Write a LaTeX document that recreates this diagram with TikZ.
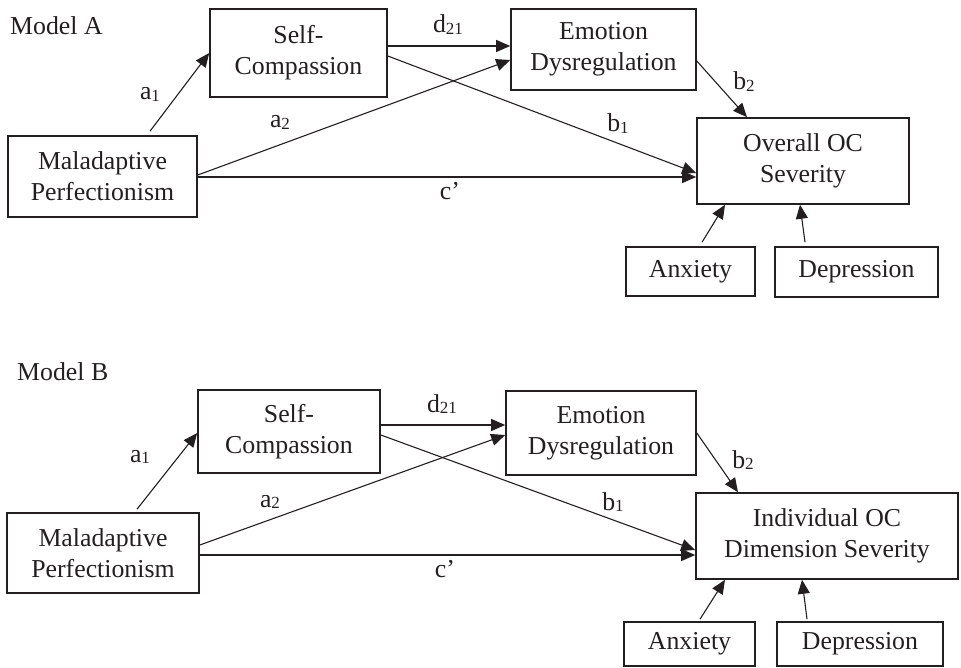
\documentclass[tikz,border=0pt]{standalone}
\usepackage{fontspec}
\setmainfont{Liberation Serif}
\usetikzlibrary{arrows.meta}
\definecolor{ink}{RGB}{35,31,32}
\newcommand{\subdig}[1]{\raisebox{-1.5pt}{\fontsize{17}{17}\selectfont #1}}
\begin{document}
\begin{tikzpicture}[x=1pt,y=-1pt,
  box/.style={draw=ink, line width=1.6pt, inner sep=0pt, align=center, text=ink,
    font=\fontsize{25.8}{31}\selectfont},
  lbl/.style={anchor=base, inner sep=0pt, text=ink, font=\fontsize{25.8}{31}\selectfont},
  arr/.style={draw=ink, line width=1.1pt, -{Triangle[length=14pt,width=12pt]}}
]
\useasboundingbox (0,0) rectangle (961,668);

% ---------------- Model A ----------------
\node[lbl, anchor=base west] (titA) at (10,35) {Model A};
\node[box, minimum width=189pt, minimum height=81pt] (mpA) at (102.5,176.5) {Maladaptive\\Perfectionism};
\node[box, minimum width=177pt, minimum height=88pt] (scA) at (298.5,53) {Self-\\Compassion};
\node[box, minimum width=185pt, minimum height=81pt] (edA) at (603.5,49.5) {Emotion\\Dysregulation};
\node[box, minimum width=212pt, minimum height=86pt] (ocA) at (803,161) {Overall OC\\Severity};
\node[box, minimum width=129pt, minimum height=49pt] (axA) at (690.5,271.5) {Anxiety};
\node[box, minimum width=163pt, minimum height=50pt] (dpA) at (856.5,272) {Depression};

\draw[arr] ([xshift=47.5pt,yshift=4pt]mpA.north) -- (scA.west);
\draw[arr] ([yshift=7pt]scA.east) -- ([yshift=3.5pt]edA.west);
\draw[arr] ([yshift=1.5pt]mpA.east) -- ([yshift=-10.5pt]edA.west);
\draw[arr] ([yshift=-3pt]scA.east) -- ([yshift=-12pt]ocA.west);
\draw[arr] ([yshift=-0.5pt]mpA.east) -- ([yshift=-16pt]ocA.west);
\draw[arr] ([yshift=-11.5pt]edA.east) -- ([xshift=-56pt]ocA.north);
\draw[arr] ([xshift=11.5pt,yshift=4pt]axA.north) -- ([xshift=-78pt]ocA.south);
\draw[arr] ([xshift=-51.5pt,yshift=4pt]dpA.north) -- ([xshift=-3pt]ocA.south);

\node[lbl] (a1A) at (150,100) {a\subdig{1}};
\node[lbl] (a2A) at (280,128) {a\subdig{2}};
\node[lbl] (d21A) at (448,33) {d\subdig{21}};
\node[lbl] (cA) at (450,200) {c’};
\node[lbl] (b1A) at (618,132) {b\subdig{1}};
\node[lbl] (b2A) at (744,90) {b\subdig{2}};

% ---------------- Model B ----------------
\node[lbl, anchor=base west] (titB) at (17,380) {Model B};
\node[box, minimum width=192pt, minimum height=80pt] (mpB) at (103,553) {Maladaptive\\Perfectionism};
\node[box, minimum width=182pt, minimum height=83pt] (scB) at (289,431.5) {Self-\\Compassion};
\node[box, minimum width=190pt, minimum height=84pt] (edB) at (601,433) {Emotion\\Dysregulation};
\node[box, minimum width=262pt, minimum height=86pt] (ocB) at (827,536) {Individual OC\\Dimension Severity};
\node[box, minimum width=131pt, minimum height=44pt] (axB) at (689.5,644) {Anxiety};
\node[box, minimum width=166pt, minimum height=44pt] (dpB) at (860,644) {Depression};

\draw[arr] ([xshift=34pt,yshift=3pt]mpB.north) -- ([yshift=-1.5pt]scB.west);
\draw[arr] ([yshift=6.5pt]scB.east) -- ([yshift=8pt]edB.west);
\draw[arr] ([yshift=8pt]mpB.east) -- ([yshift=-2pt]edB.west);
\draw[arr] ([yshift=-3.5pt]scB.east) -- ([yshift=-14pt]ocB.west);
\draw[arr] ([yshift=-2pt]mpB.east) -- ([yshift=-19pt]ocB.west);
\draw[arr] (edB.east) -- ([xshift=-89pt]ocB.north);
\draw[arr] ([xshift=10.5pt,yshift=2pt]axB.north) -- ([xshift=-102pt]ocB.south);
\draw[arr] ([xshift=-53pt,yshift=2pt]dpB.north) -- ([xshift=-25pt]ocB.south);

\node[lbl] (a1B) at (140,462) {a\subdig{1}};
\node[lbl] (a2B) at (270,507) {a\subdig{2}};
\node[lbl] (d21B) at (442,412) {d\subdig{21}};
\node[lbl] (cB) at (445,577) {c’};
\node[lbl] (b1B) at (613,510) {b\subdig{1}};
\node[lbl] (b2B) at (743,468) {b\subdig{2}};
\end{tikzpicture}
\end{document}
